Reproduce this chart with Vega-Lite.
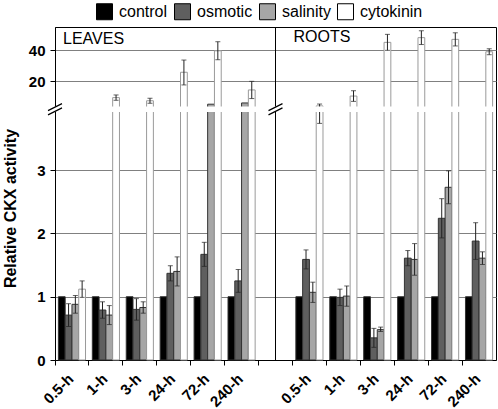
{
  "$schema": "https://vega.github.io/schema/vega-lite/v6.json",
  "width": 441,
  "height": 333,
  "autosize": "none",
  "padding": {"left": 55, "top": 27, "right": 2, "bottom": 49},
  "config": {
    "font": "Liberation Sans",
    "view": {"stroke": "black", "strokeWidth": 1},
    "axis": {"domainColor": "black", "tickColor": "black", "labelColor": "black", "titleColor": "black"}
  },
  "data": {"values": [
    {"slot": "L0.5-h", "treatment": "control", "value": 1},
    {"slot": "L0.5-h", "treatment": "osmotic", "value": 0.71, "lo": 0.53, "hi": 0.89},
    {"slot": "L0.5-h", "treatment": "salinity", "value": 0.88, "lo": 0.74, "hi": 1.02},
    {"slot": "L0.5-h", "treatment": "cytokinin", "value": 1.12, "lo": 0.99, "hi": 1.25},
    {"slot": "L1-h", "treatment": "control", "value": 1},
    {"slot": "L1-h", "treatment": "osmotic", "value": 0.79, "lo": 0.66, "hi": 0.92},
    {"slot": "L1-h", "treatment": "salinity", "value": 0.71, "lo": 0.56, "hi": 0.86},
    {"slot": "L1-h", "treatment": "cytokinin", "value": 9.6, "lo": 7.9, "hi": 11.3},
    {"slot": "L3-h", "treatment": "control", "value": 1},
    {"slot": "L3-h", "treatment": "osmotic", "value": 0.8, "lo": 0.63, "hi": 0.97},
    {"slot": "L3-h", "treatment": "salinity", "value": 0.83, "lo": 0.74, "hi": 0.92},
    {"slot": "L3-h", "treatment": "cytokinin", "value": 7.6, "lo": 6.0, "hi": 9.2},
    {"slot": "L24-h", "treatment": "control", "value": 1},
    {"slot": "L24-h", "treatment": "osmotic", "value": 1.37, "lo": 1.25, "hi": 1.49},
    {"slot": "L24-h", "treatment": "salinity", "value": 1.4, "lo": 1.17, "hi": 1.63},
    {"slot": "L24-h", "treatment": "cytokinin", "value": 25.8, "lo": 17.7, "hi": 33.6},
    {"slot": "L72-h", "treatment": "control", "value": 1},
    {"slot": "L72-h", "treatment": "osmotic", "value": 1.67, "lo": 1.48, "hi": 1.86},
    {"slot": "L72-h", "treatment": "salinity", "value": 5.4},
    {"slot": "L72-h", "treatment": "cytokinin", "value": 39.5, "lo": 33.8, "hi": 45.3},
    {"slot": "L240-h", "treatment": "control", "value": 1},
    {"slot": "L240-h", "treatment": "osmotic", "value": 1.25, "lo": 1.07, "hi": 1.43},
    {"slot": "L240-h", "treatment": "salinity", "value": 6.2},
    {"slot": "L240-h", "treatment": "cytokinin", "value": 14.5, "lo": 9.0, "hi": 20.0},
    {"slot": "R0.5-h", "treatment": "control", "value": 1},
    {"slot": "R0.5-h", "treatment": "osmotic", "value": 1.59, "lo": 1.44, "hi": 1.74},
    {"slot": "R0.5-h", "treatment": "salinity", "value": 1.07, "lo": 0.91, "hi": 1.23},
    {"slot": "R0.5-h", "treatment": "cytokinin", "value": 4.3, "lo": 3.74, "hi": 5.5},
    {"slot": "R1-h", "treatment": "control", "value": 1},
    {"slot": "R1-h", "treatment": "osmotic", "value": 0.99, "lo": 0.86, "hi": 1.12},
    {"slot": "R1-h", "treatment": "salinity", "value": 1.01, "lo": 0.85, "hi": 1.17},
    {"slot": "R1-h", "treatment": "cytokinin", "value": 10.6, "lo": 7.2, "hi": 14.0},
    {"slot": "R3-h", "treatment": "control", "value": 1},
    {"slot": "R3-h", "treatment": "osmotic", "value": 0.35, "lo": 0.2, "hi": 0.5},
    {"slot": "R3-h", "treatment": "salinity", "value": 0.48, "lo": 0.45, "hi": 0.52},
    {"slot": "R3-h", "treatment": "cytokinin", "value": 44.9, "lo": 39.8, "hi": 50.0},
    {"slot": "R24-h", "treatment": "control", "value": 1},
    {"slot": "R24-h", "treatment": "osmotic", "value": 1.61, "lo": 1.49, "hi": 1.73},
    {"slot": "R24-h", "treatment": "salinity", "value": 1.59, "lo": 1.34, "hi": 1.84},
    {"slot": "R24-h", "treatment": "cytokinin", "value": 47.9, "lo": 43.5, "hi": 52.3},
    {"slot": "R72-h", "treatment": "control", "value": 1},
    {"slot": "R72-h", "treatment": "osmotic", "value": 2.24, "lo": 1.93, "hi": 2.55},
    {"slot": "R72-h", "treatment": "salinity", "value": 2.73, "lo": 2.47, "hi": 2.99},
    {"slot": "R72-h", "treatment": "cytokinin", "value": 46.8, "lo": 42.6, "hi": 51.0},
    {"slot": "R240-h", "treatment": "control", "value": 1},
    {"slot": "R240-h", "treatment": "osmotic", "value": 1.88, "lo": 1.59, "hi": 2.17},
    {"slot": "R240-h", "treatment": "salinity", "value": 1.61, "lo": 1.51, "hi": 1.71},
    {"slot": "R240-h", "treatment": "cytokinin", "value": 38.9, "lo": 37.0, "hi": 40.8}
  ]},
  "layer": [
    {
      "mark": {"type": "bar", "strokeWidth": 1},
      "encoding": {
        "x": {
          "field": "slot", "type": "nominal",
          "scale": {"domain": ["L0.5-h", "L1-h", "L3-h", "L24-h", "L72-h", "L240-h", "gap", "R0.5-h", "R1-h", "R3-h", "R24-h", "R72-h", "R240-h"], "paddingInner": 0, "paddingOuter": 0},
          "axis": {
            "title": null, "bandPosition": 0, "labelOffset": -6, "labelAngle": -45,
            "labelAlign": "right", "labelBaseline": "top",
            "labelExpr": "datum.value == 'gap' ? '' : slice(datum.value, 1)",
            "labelFontSize": 15, "labelFontWeight": "bold", "tickSize": 5, "labelPadding": 6, "grid": false
          }
        },
        "xOffset": {
          "field": "treatment", "type": "nominal",
          "scale": {"domain": ["control", "osmotic", "salinity", "cytokinin"], "paddingInner": 0, "paddingOuter": 0.5}
        },
        "y": {
          "field": "value", "type": "quantitative",
          "scale": {"domain": [0, 3.92, 3.93, 54.7], "range": [333, 85, 79.5, 0], "nice": false},
          "axis": {
            "values": [0, 1, 2, 3, 20, 40], "grid": true, "gridColor": "#808080", "gridWidth": 1,
            "labelFontSize": 15, "labelFontWeight": "bold", "tickSize": 5, "labelPadding": 5,
            "title": "Relative CKX activity", "titleFontSize": 16, "titleFontWeight": "bold",
            "titleY": 181, "titlePadding": 10
          }
        },
        "fill": {
          "field": "treatment", "type": "nominal",
          "scale": {"domain": ["control", "osmotic", "salinity", "cytokinin"], "range": ["#000000", "#5f5f5f", "#a6a6a6", "#ffffff"]},
          "legend": {
            "title": null, "orient": "none", "direction": "horizontal", "legendX": 41, "legendY": -24,
            "symbolType": "square", "symbolSize": 256, "symbolStrokeColor": "black", "symbolStrokeWidth": 1,
            "labelFontSize": 16, "labelColor": "black", "labelOffset": 6, "columnPadding": 4
          }
        },
        "stroke": {"condition": {"test": "datum.treatment == 'cytokinin'", "value": "#9a9a9a"}, "value": "#333333"}
      }
    },
    {
      "mark": {"type": "rule", "color": "#222222", "strokeWidth": 1},
      "encoding": {
        "x": {"field": "slot", "type": "nominal"},
        "xOffset": {"field": "treatment", "type": "nominal"},
        "y": {"field": "lo", "type": "quantitative"},
        "y2": {"field": "hi"}
      }
    },
    {
      "mark": {"type": "tick", "color": "#222222", "size": 5, "thickness": 1},
      "encoding": {
        "x": {"field": "slot", "type": "nominal"},
        "xOffset": {"field": "treatment", "type": "nominal"},
        "y": {"field": "hi", "type": "quantitative"}
      }
    },
    {
      "mark": {"type": "tick", "color": "#222222", "size": 5, "thickness": 1},
      "encoding": {
        "x": {"field": "slot", "type": "nominal"},
        "xOffset": {"field": "treatment", "type": "nominal"},
        "y": {"field": "lo", "type": "quantitative"}
      }
    },
    {
      "data": {"values": [{}]},
      "mark": {"type": "rule", "color": "black", "strokeWidth": 1},
      "encoding": {"x": {"datum": "gap"}}
    },
    {
      "data": {"values": [{}]},
      "mark": {"type": "rect", "color": "white"},
      "encoding": {"y": {"datum": 3.92}, "y2": {"datum": 3.93}}
    },
    {
      "data": {"values": [{}]},
      "mark": {"type": "point", "shape": "M -1 0.2 L 1 -0.8 M -1 0.8 L 1 -0.2", "filled": false, "stroke": "black", "strokeWidth": 1.2, "size": 196, "opacity": 1},
      "encoding": {"x": {"datum": "L0.5-h", "bandPosition": 0}, "y": {"datum": 3.925}}
    },
    {
      "data": {"values": [{}]},
      "mark": {"type": "point", "shape": "M -1 0.2 L 1 -0.8 M -1 0.8 L 1 -0.2", "filled": false, "stroke": "black", "strokeWidth": 1.2, "size": 196, "opacity": 1},
      "encoding": {"x": {"datum": "gap"}, "y": {"datum": 3.925}}
    },
    {
      "data": {"values": [{}]},
      "mark": {"type": "text", "text": "LEAVES", "align": "left", "baseline": "middle", "fontSize": 16, "dx": 8, "color": "black"},
      "encoding": {"x": {"datum": "L0.5-h", "bandPosition": 0}, "y": {"datum": 47}}
    },
    {
      "data": {"values": [{}]},
      "mark": {"type": "text", "text": "ROOTS", "align": "left", "baseline": "middle", "fontSize": 16, "dx": 1, "color": "black"},
      "encoding": {"x": {"datum": "R0.5-h", "bandPosition": 0}, "y": {"datum": 48}}
    }
  ]
}
